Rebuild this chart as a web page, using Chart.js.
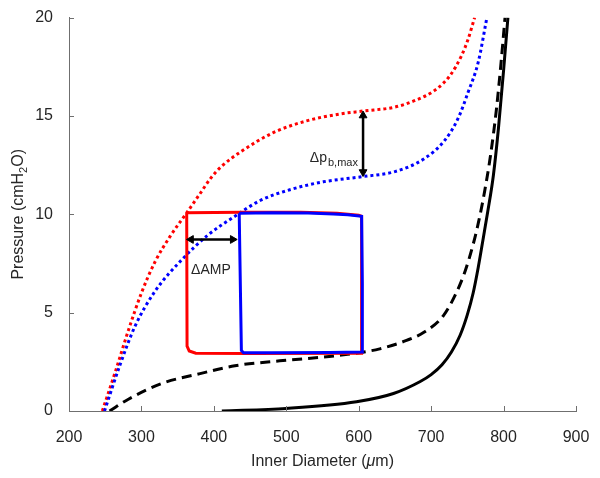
<!DOCTYPE html>
<html>
<head>
<meta charset="utf-8">
<title>Pressure vs Inner Diameter</title>
<script src="https://cdn.jsdelivr.net/npm/chart.js@4.4.0/dist/chart.umd.min.js"></script>
<style>
  html, body { margin: 0; padding: 0; background: #fff; }
  #wrap { width: 600px; height: 478px; position: relative; }
</style>
</head>
<body>
<div id="wrap"><canvas id="pv-chart"></canvas></div>
<script>
/* Pressure–diameter curves: passive/active envelopes (dotted), two loops,
   reference curves (dashed / solid) plus the two annotation arrows. */

// ---------- Data ----------
const xTicks = [200, 300, 400, 500, 600, 700, 800, 900];
const yTicks = [0, 5, 10, 15, 20];

const redDotX = [246, 264, 282, 300, 319, 340, 362, 380, 396, 411, 438, 482, 528, 574, 606, 650, 678, 705, 726, 742, 751, 760];
const redDotY = [0, 2.0, 4.1, 6.0, 7.6, 8.9, 10.05, 11.0, 11.85, 12.45, 13.2, 14.15, 14.75, 15.1, 15.25, 15.45, 15.79, 16.3, 17.05, 18.07, 18.9, 20];

const blueDotX = [249, 270, 291, 319, 356, 392, 429, 464, 505, 551, 606, 650, 691, 719, 737, 751, 765, 777];
const blueDotY = [0, 2.3, 4.3, 6.1, 7.7, 8.95, 9.9, 10.7, 11.25, 11.65, 11.92, 12.17, 12.84, 13.77, 14.86, 16.2, 17.73, 20];

const dashX = [256, 282, 328, 381, 429, 491, 574, 629, 666, 690, 717, 735, 747, 758, 766, 774, 782, 790, 796, 802];
const dashY = [0, 0.6, 1.4, 1.9, 2.3, 2.55, 2.83, 3.16, 3.59, 4.0, 4.85, 6.03, 7.12, 8.47, 9.7, 11.2, 13.0, 15.3, 17.5, 20];

const solidX = [411, 500, 597, 648, 685, 700, 715, 728, 740, 750, 758, 765, 772, 778, 786, 793, 800, 806];
const solidY = [0, 0.13, 0.47, 0.89, 1.5, 1.85, 2.35, 3.0, 3.85, 4.9, 6.0, 7.3, 8.8, 10.1, 12.0, 14.4, 17.3, 20];

const redLoopX = [362.5, 440, 520, 570, 600, 604, 604, 450, 375, 366, 363, 362.5];
const redLoopY = [10.08, 10.1, 10.1, 10.05, 9.95, 9.9, 2.93, 2.92, 2.94, 3.05, 3.3, 10.08];

const blueLoopX = [435, 480, 530, 565, 585, 604, 605, 605, 560, 480, 441, 438, 435];
const blueLoopY = [10.05, 10.08, 10.07, 10.02, 9.98, 9.9, 6.5, 3.0, 2.98, 2.96, 2.96, 3.08, 10.05];

// annotation arrows (head centres sit just inside the tips)
const ampArrowX = [368.5, 426];
const ampArrowY = [8.72, 8.72];
const dpArrowX = [606, 606];
const dpArrowY = [15.02, 12.15];

// annotation text anchors (left edge, baseline)
const ampLabel = { text: "\u0394AMP", x: 368.5, y: 6.95 };
const dpLabel = { text: "\u0394p", sub: "b,max", x: 532.5, y: 12.68 };

// ---------- Styles ----------
const FONT = "'Liberation Sans', Arial, Helvetica, sans-serif";
const TEXT_COLOR = "#262626";
const AXIS_COLOR = "#6f6f6f";
const RED = "#ff0000";
const BLUE = "#0000ff";

const zip = (xs, ys) => xs.map((x, i) => ({ x, y: ys[i] }));

function curve(xs, ys, color, dash, extra = {}) {
  return {
    data: zip(xs, ys),
    showLine: true,
    borderColor: color,
    backgroundColor: color,
    borderWidth: 3,
    borderDash: dash,
    borderCapStyle: "butt",
    pointRadius: 0,
    pointHoverRadius: 0,
    fill: false,
    ...extra,
  };
}

function arrow(xs, ys, rotations) {
  return {
    data: zip(xs, ys),
    showLine: true,
    borderColor: "#000",
    backgroundColor: "#000",
    borderWidth: 2.5,
    pointStyle: "triangle",
    pointRadius: 4.5,
    pointBorderWidth: 1,
    pointRotation: rotations,
    clip: false,
  };
}

// ---------- Decorations: inward ticks, labels, axis titles ----------
const decorPlugin = {
  id: "decor",
  afterDatasetsDraw(chart) {
    const { ctx, chartArea: a, scales: { x, y } } = chart;
    ctx.save();

    // MATLAB-style ticks pointing into the plot
    ctx.strokeStyle = AXIS_COLOR;
    ctx.lineWidth = 1;
    ctx.beginPath();
    xTicks.forEach(v => {
      const px = Math.round(x.getPixelForValue(v)) + 0.5;
      ctx.moveTo(px, a.bottom);
      ctx.lineTo(px, a.bottom - 5);
    });
    yTicks.forEach(v => {
      const py = Math.round(y.getPixelForValue(v)) + 0.5;
      ctx.moveTo(a.left, py);
      ctx.lineTo(a.left + 5, py);
    });
    ctx.stroke();

    // annotation labels
    ctx.fillStyle = TEXT_COLOR;
    ctx.textBaseline = "alphabetic";
    ctx.textAlign = "left";
    ctx.font = `14px ${FONT}`;
    ctx.fillText(ampLabel.text, x.getPixelForValue(ampLabel.x), y.getPixelForValue(ampLabel.y));

    const dpx = x.getPixelForValue(dpLabel.x);
    const dpy = y.getPixelForValue(dpLabel.y);
    ctx.fillText(dpLabel.text, dpx, dpy);
    const mainW = ctx.measureText(dpLabel.text).width;
    ctx.font = `11px ${FONT}`;
    ctx.fillText(dpLabel.sub, dpx + mainW + 1, dpy + 4);

    // x axis title: Inner Diameter (μm) with italic mu
    const xParts = [
      { t: "Inner Diameter (", f: `16px ${FONT}`, dy: 0 },
      { t: "\u03bc", f: `italic 16px ${FONT}`, dy: 0 },
      { t: "m)", f: `16px ${FONT}`, dy: 0 },
    ];
    drawParts(ctx, xParts, (a.left + a.right) / 2, 466);

    // y axis title: Pressure (cmH2O) rotated
    const yParts = [
      { t: "Pressure (cmH", f: `16px ${FONT}`, dy: 0 },
      { t: "2", f: `11px ${FONT}`, dy: 4 },
      { t: "O)", f: `16px ${FONT}`, dy: 0 },
    ];
    ctx.translate(23, (a.top + a.bottom) / 2);
    ctx.rotate(-Math.PI / 2);
    drawParts(ctx, yParts, 0, 0);

    ctx.restore();
  },
};

function drawParts(ctx, parts, cx, baseline) {
  let total = 0;
  parts.forEach(p => { ctx.font = p.f; p.w = ctx.measureText(p.t).width; total += p.w; });
  let cur = cx - total / 2;
  ctx.fillStyle = TEXT_COLOR;
  ctx.textAlign = "left";
  ctx.textBaseline = "alphabetic";
  parts.forEach(p => {
    ctx.font = p.f;
    ctx.fillText(p.t, cur, baseline + p.dy);
    cur += p.w;
  });
}

// ---------- Chart ----------
const tickFont = { family: FONT, size: 16 };

new Chart(document.getElementById("pv-chart"), {
  type: "scatter",
  data: {
    datasets: [
      arrow(dpArrowX, dpArrowY, [0, 180]),
      arrow(ampArrowX, ampArrowY, [270, 90]),
      curve(blueLoopX, blueLoopY, BLUE, [], { tension: 0 }),
      curve(redLoopX, redLoopY, RED, [], { tension: 0 }),
      curve(dashX, dashY, "#000", [10, 6], { cubicInterpolationMode: "monotone" }),
      curve(solidX, solidY, "#000", [], { cubicInterpolationMode: "monotone" }),
      curve(blueDotX, blueDotY, BLUE, [3, 3], { cubicInterpolationMode: "monotone" }),
      curve(redDotX, redDotY, RED, [3, 3], { cubicInterpolationMode: "monotone" }),
    ],
  },
  options: {
    responsive: true,
    maintainAspectRatio: false,
    animation: false,
    events: [],
    layout: { padding: { top: 15, right: 24, left: 0, bottom: 0 } },
    plugins: { legend: { display: false }, tooltip: { enabled: false } },
    scales: {
      x: {
        type: "linear",
        min: 200,
        max: 900,
        afterBuildTicks: s => { s.ticks = xTicks.map(v => ({ value: v })); },
        afterFit: s => { s.height = 67; },
        grid: { display: false },
        border: { display: true, color: AXIS_COLOR, width: 1 },
        ticks: { color: TEXT_COLOR, font: tickFont, padding: 9, maxRotation: 0 },
      },
      y: {
        type: "linear",
        min: 0,
        max: 20,
        afterBuildTicks: s => { s.ticks = yTicks.map(v => ({ value: v })); },
        afterFit: s => { s.width = 69; },
        grid: { display: false },
        border: { display: true, color: AXIS_COLOR, width: 1 },
        ticks: { color: TEXT_COLOR, font: tickFont, padding: 8 },
      },
    },
  },
  plugins: [decorPlugin],
});
</script>
</body>
</html>
